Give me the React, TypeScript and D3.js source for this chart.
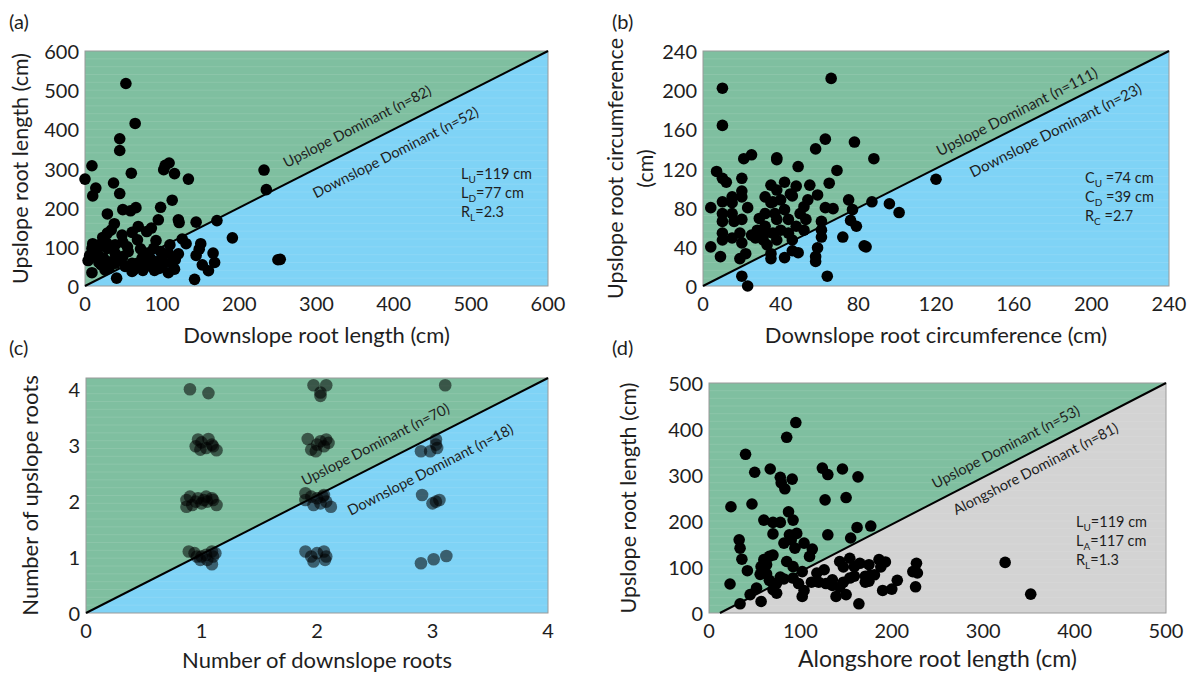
import React from "react";
import * as d3 from "d3";

// ---------- data ----------
const aDown = [53,65,45,45,9,0,60,37,45,14,10,29,49,59,66,98,104,109,102,116,134,113,121,122,144,171,95,86,80,69,61,38,34,29,23,10,9,39,49,68,92,110,126,131,150,191,232,235,250,253,166,168,160,152,144,148,142,121,117,116,108,41,9,4,16,24,21,31,39,49,56,61,63,74,81,86,93,98,89,78,68,39,29,19,14,96,102,108,61,26,45,55,72,85,100,33,18,52,90,75,112,6,28,48];
const aUp   = [517,415,376,346,307,273,288,263,236,250,230,184,195,192,200,201,308,314,297,287,273,219,169,162,163,167,169,148,139,152,137,159,143,135,124,108,96,105,112,118,116,105,120,108,108,123,296,246,67,68,84,60,39,54,78,94,17,82,67,43,34,20,34,65,84,71,54,45,58,75,88,58,41,71,84,54,62,88,96,49,58,84,96,105,75,45,58,84,37,41,70,100,95,70,72,62,60,50,40,40,60,78,110,130];

const bDown = [66,10,10,63,78,58,25,21,38,38,88,49,69,7,10,12,20,65,42,35,48,55,20,20,15,59,45,120,87,96,101,75,77,76,79,72,83,84,63,67,61,61,61,59,58,58,64,20,23,4,4,9,19,22,42,35,46,49,10,10,10,10,10,15,15,16,15,19,20,20,23,25,28,27,29,32,32,32,33,35,32,35,37,38,36,40,42,44,44,46,48,50,52,53,54,52,38,31,36,40,46,38];
const bUp   = [212,202,164,150,147,140,134,130,131,129,130,122,118,117,110,106,110,105,106,103,102,103,97,91,91,93,94,109,86,84,75,88,78,67,61,50,41,40,80,79,66,57,50,39,30,25,10,10,0,80,40,30,28,33,29,28,36,34,86,74,66,54,47,85,74,66,49,54,44,68,80,52,57,49,69,74,61,54,42,33,91,85,74,68,54,57,78,68,54,47,61,74,81,68,88,57,47,47,86,88,92,98];

const cDown = [0.90,1.06,0.95,0.97,1.00,1.06,1.09,1.13,1.10,1.04,0.99,0.87,0.90,0.92,0.97,1.00,1.04,1.05,1.09,1.13,0.87,0.95,1.02,1.10,0.89,0.94,0.99,1.04,1.09,1.10,1.09,1.00,1.12,0.96,1.05,1.97,2.08,2.03,2.03,1.92,1.95,2.00,2.03,2.08,2.06,2.10,1.99,1.90,1.90,1.97,2.00,2.05,2.08,2.12,2.03,1.95,2.06,1.90,1.95,2.00,2.06,2.07,2.08,1.97,3.11,2.90,2.98,3.03,3.04,3.03,2.91,3.00,3.06,3.03,2.90,3.01,3.12];
const cUp   = [4.00,3.93,2.98,3.10,3.05,3.11,3.01,2.91,2.98,2.95,2.92,2.02,2.08,1.93,2.05,1.96,2.08,1.99,2.05,1.93,1.90,1.99,2.02,2.02,1.10,1.07,0.95,1.04,1.10,1.01,0.87,1.01,1.07,1.01,0.95,4.07,4.07,3.94,3.88,3.11,2.92,3.01,3.07,3.10,2.98,3.04,2.89,2.14,2.02,1.93,2.05,2.08,1.99,1.90,1.96,2.08,2.11,1.10,1.01,1.07,1.10,0.95,1.01,0.92,4.07,2.89,2.89,3.01,2.95,3.10,2.11,1.96,2.02,1.99,0.89,0.96,1.02];

const dAlong = [95,85,40,50,67,78,91,79,83,124,130,146,163,24,47,127,150,60,70,78,92,87,70,88,96,130,177,162,155,33,34,36,42,23,82,90,94,104,113,110,60,66,70,57,63,85,92,102,118,126,143,154,165,175,186,193,188,176,171,206,190,200,227,228,223,226,324,352,164,34,45,52,57,70,74,74,82,92,98,102,104,112,120,128,135,139,143,147,150,154,159,171,175,181,159,147,135,63,66,78,56];
const dUp    = [414,382,345,306,313,295,291,283,270,315,301,313,296,231,237,246,251,202,197,197,202,220,172,170,173,170,189,186,163,159,141,117,92,63,152,159,141,152,139,123,116,123,126,101,105,112,101,90,87,94,112,119,108,105,116,111,100,82,67,71,49,52,108,87,90,57,110,41,20,20,40,54,25,51,43,65,74,76,64,36,49,67,67,64,60,36,56,67,40,76,80,80,69,83,101,100,72,85,71,78,84];

const aTicks = [0, 100, 200, 300, 400, 500, 600];
const bTicks = [0, 40, 80, 120, 160, 200, 240];
const cTicks = [0, 1, 2, 3, 4];
const dTicks = [0, 100, 200, 300, 400, 500];

// ---------- styling ----------
const FONT = "Lato, 'Open Sans', sans-serif";
const GREEN = "#7fbfa0";
const BLUE = "#7fd3f6";
const GRAY = "#d3d3d3";
const TXT = "#1e1e1e";

type Stat = { base: string; sub: string; rest: string };

type Cfg = {
  tag: string;
  left: number; right: number; top: number; bottom: number;
  xDomain: [number, number]; yDomain: [number, number];
  xTicks: number[]; yTicks: number[];
  xs: number[]; ys: number[];
  lineStart: [number, number]; lineEnd: [number, number];
  lowColor: string;
  dotR: number; dotOpacity: number;
  upLabel: string; downLabel: string;
  upT: number; upD: number; downT: number; downD: number;
  annoSize: number;
  stats: Stat[]; statX: number; statY: number; statGap: number;
  xTitle: string; xTitleY: number; xTitleSize: number;
  yTitle: string[]; yTitleX: number[]; yTitleSize: number;
  tagX: number; tagY: number;
  tickSize: number;
};

function Panel({ c }: { c: Cfg }) {
  const xs = d3.scaleLinear().domain(c.xDomain).range([c.left, c.right]);
  const ys = d3.scaleLinear().domain(c.yDomain).range([c.bottom, c.top]);
  const [lx0, ly0] = c.lineStart;
  const [lx1, ly1] = c.lineEnd;
  const p0: [number, number] = [xs(lx0), ys(ly0)];
  const p1: [number, number] = [xs(lx1), ys(ly1)];
  const green = [
    [c.left, c.bottom], p0, p1, [c.right, c.top], [c.left, c.top],
  ];
  const ang = Math.atan2(p1[1] - p0[1], p1[0] - p0[0]);
  const deg = (ang * 180) / Math.PI;
  const nx = Math.sin(ang), ny = -Math.cos(ang);
  const onLine = (t: number): [number, number] => {
    const yv = ly0 + ((t - lx0) * (ly1 - ly0)) / (lx1 - lx0);
    return [xs(t), ys(yv)];
  };
  const up = onLine(c.upT);
  const dn = onLine(c.downT);
  const upP = [up[0] + nx * c.upD, up[1] + ny * c.upD];
  const dnP = [dn[0] - nx * c.downD, dn[1] - ny * c.downD];
  const h = c.bottom - c.top;
  const nGrid = 30;
  const gridYs = d3.range(1, nGrid).map((i) => c.top + (i * h) / nGrid);
  const cy = (c.top + c.bottom) / 2;
  return (
    <g fontFamily={FONT} fill={TXT}>
      <rect x={c.left} y={c.top} width={c.right - c.left} height={h} fill={c.lowColor} />
      <polygon points={green.map((p) => p.join(",")).join(" ")} fill={GREEN} />
      {gridYs.map((y, i) => (
        <line key={i} x1={c.left} x2={c.right} y1={y} y2={y} stroke="#fff" strokeOpacity={0.1} strokeWidth={1} />
      ))}
      <rect x={c.left} y={c.top} width={c.right - c.left} height={h} fill="none" stroke="#9a9a9a" strokeWidth={1} />
      <line x1={p0[0]} y1={p0[1]} x2={p1[0]} y2={p1[1]} stroke="#000" strokeWidth={2} />
      {c.xs.map((v, i) => (
        <circle key={i} cx={xs(v)} cy={ys(c.ys[i])} r={c.dotR} fill="#000" fillOpacity={c.dotOpacity} />
      ))}
      <text transform={`translate(${upP[0]},${upP[1]}) rotate(${deg})`} textAnchor="middle" dominantBaseline="central" fontSize={c.annoSize}>{c.upLabel}</text>
      <text transform={`translate(${dnP[0]},${dnP[1]}) rotate(${deg})`} textAnchor="middle" dominantBaseline="central" fontSize={c.annoSize}>{c.downLabel}</text>
      {c.stats.map((s, i) => (
        <text key={i} x={c.statX} y={c.statY + i * c.statGap} fontSize={14.5}>
          {s.base}
          <tspan fontSize={10} dy={4}>{s.sub}</tspan>
          <tspan dy={-4}>{s.rest}</tspan>
        </text>
      ))}
      {c.xTicks.map((t) => (
        <text key={"x" + t} x={xs(t)} y={c.bottom + 17} textAnchor="middle" dominantBaseline="central" fontSize={c.tickSize}>{t}</text>
      ))}
      {c.yTicks.map((t) => (
        <text key={"y" + t} x={c.left - 6} y={ys(t)} textAnchor="end" dominantBaseline="central" fontSize={c.tickSize}>{t}</text>
      ))}
      <text x={(c.left + c.right) / 2} y={c.xTitleY} textAnchor="middle" dominantBaseline="central" fontSize={c.xTitleSize}>{c.xTitle}</text>
      {c.yTitle.map((t, i) => (
        <text key={i} transform={`translate(${c.yTitleX[i]},${cy}) rotate(-90)`} textAnchor="middle" dominantBaseline="central" fontSize={c.yTitleSize}>{t}</text>
      ))}
      <text x={c.tagX} y={c.tagY} dominantBaseline="central" fontSize={20}>{c.tag}</text>
    </g>
  );
}

const panels: Cfg[] = [
  {
    tag: "(a)", left: 85, right: 548, top: 51, bottom: 286,
    xDomain: [0, 600], yDomain: [0, 600], xTicks: aTicks, yTicks: aTicks,
    xs: aDown, ys: aUp, lineStart: [0, 0], lineEnd: [600, 600], lowColor: BLUE,
    dotR: 5.8, dotOpacity: 1,
    upLabel: "Upslope Dominant (n=82)", downLabel: "Downslope Dominant (n=52)",
    upT: 364, upD: 19.5, downT: 390, downD: 21, annoSize: 14.5,
    stats: [{ base: "L", sub: "U", rest: "=119 cm" }, { base: "L", sub: "D", rest: "=77 cm" }, { base: "R", sub: "L", rest: "=2.3" }],
    statX: 461, statY: 179, statGap: 19,
    xTitle: "Downslope root length (cm)", xTitleY: 334, xTitleSize: 22,
    yTitle: ["Upslope root length (cm)"], yTitleX: [20], yTitleSize: 21.5,
    tagX: 9, tagY: 21, tickSize: 20,
  },
  {
    tag: "(b)", left: 703, right: 1169, top: 51, bottom: 286,
    xDomain: [0, 240], yDomain: [0, 240], xTicks: bTicks, yTicks: bTicks,
    xs: bDown, ys: bUp, lineStart: [0, 0], lineEnd: [240, 240], lowColor: BLUE,
    dotR: 5.8, dotOpacity: 1,
    upLabel: "Upslope Dominant (n=111)", downLabel: "Downslope Dominant (n=23)",
    upT: 165, upD: 15, downT: 177, downD: 19, annoSize: 15,
    stats: [{ base: "C", sub: "U", rest: " =74 cm" }, { base: "C", sub: "D", rest: " =39 cm" }, { base: "R", sub: "C", rest: " =2.7" }],
    statX: 1085, statY: 183, statGap: 19,
    xTitle: "Downslope root circumference (cm)", xTitleY: 334, xTitleSize: 22,
    yTitle: ["Upslope root circumference", "(cm)"], yTitleX: [615, 645], yTitleSize: 21.5,
    tagX: 612, tagY: 21, tickSize: 20,
  },
  {
    tag: "(c)", left: 86, right: 548, top: 378, bottom: 613,
    xDomain: [0, 4], yDomain: [0, 4.2], xTicks: cTicks, yTicks: cTicks,
    xs: cDown, ys: cUp, lineStart: [0, 0], lineEnd: [4, 4.2], lowColor: BLUE,
    dotR: 6.3, dotOpacity: 0.55,
    upLabel: "Upslope Dominant (n=70)", downLabel: "Downslope Dominant (n=18)",
    upT: 2.58, upD: 19.5, downT: 2.87, downD: 28, annoSize: 14.5,
    stats: [], statX: 0, statY: 0, statGap: 0,
    xTitle: "Number of downslope roots", xTitleY: 659, xTitleSize: 22,
    yTitle: ["Number of upslope roots"], yTitleX: [29], yTitleSize: 22,
    tagX: 9, tagY: 347, tickSize: 20,
  },
  {
    tag: "(d)", left: 709, right: 1166, top: 383, bottom: 613,
    xDomain: [0, 500], yDomain: [0, 500], xTicks: dTicks, yTicks: dTicks,
    xs: dAlong, ys: dUp, lineStart: [12, 0], lineEnd: [500, 500], lowColor: GRAY,
    dotR: 5.8, dotOpacity: 1,
    upLabel: "Upslope Dominant (n=53)", downLabel: "Alongshore Dominant (n=81)",
    upT: 333, upD: 17, downT: 349, downD: 16, annoSize: 14.5,
    stats: [{ base: "L", sub: "U", rest: "=119 cm" }, { base: "L", sub: "A", rest: "=117 cm" }, { base: "R", sub: "L", rest: "=1.3" }],
    statX: 1076, statY: 527, statGap: 19,
    xTitle: "Alongshore root length (cm)", xTitleY: 658, xTitleSize: 23,
    yTitle: ["Upslope root length (cm)"], yTitleX: [628], yTitleSize: 21.5,
    tagX: 612, tagY: 347, tickSize: 20,
  },
];

export default function App() {
  return (
    <svg width={1191} height={673} style={{ position: "absolute", left: 0, top: 0, background: "#fff" }}>
      <rect width={1191} height={673} fill="#fff" />
      {panels.map((p) => (
        <Panel key={p.tag} c={p} />
      ))}
    </svg>
  );
}
